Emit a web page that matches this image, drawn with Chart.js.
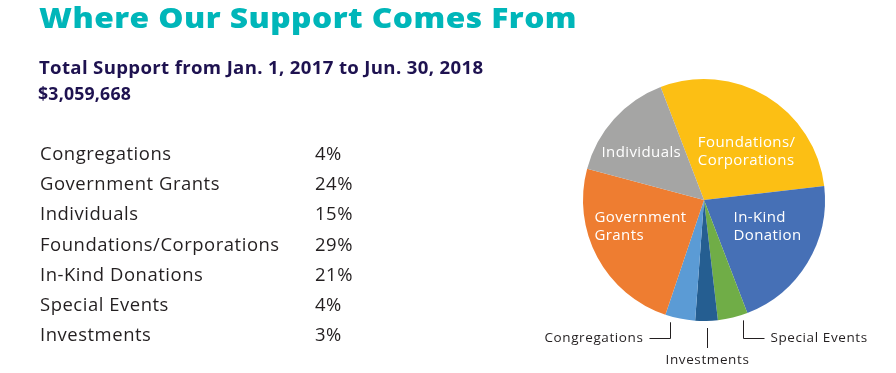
<!DOCTYPE html>
<html>
<head>
<meta charset="utf-8">
<script src="https://cdn.jsdelivr.net/npm/chart.js@4/dist/chart.umd.min.js"></script>
<style>
  html,body{margin:0;padding:0;background:#fff;}
  body{width:896px;height:373px;position:relative;overflow:hidden;font-family:"Open Sans",sans-serif;}
  #c{position:absolute;left:0;top:0;}
  .t{position:absolute;white-space:nowrap;transform-origin:0 50%;}
  #title{left:39px;top:2px;font-size:29px;line-height:29px;font-weight:800;color:#00B6B9;letter-spacing:0.4px;transform:scaleX(1.095);}
  #sub{left:39px;top:59px;font-size:17px;line-height:17px;font-weight:700;color:#1E1250;letter-spacing:0.3px;transform:scaleX(1.095);}
  #total{left:38px;top:85px;font-size:17px;line-height:17px;font-weight:700;color:#1E1250;letter-spacing:0.2px;transform:scaleX(1.04);}
  .row{font-size:17.5px;line-height:17.5px;color:#231F20;letter-spacing:0.5px;transform:scaleX(1.055);}
</style>
</head>
<body>
<canvas id="c" width="896" height="373"></canvas>
<div class="t" id="title">Where Our Support Comes From</div>
<div class="t" id="sub">Total Support from Jan. 1, 2017 to Jun. 30, 2018</div>
<div class="t" id="total">$3,059,668</div>
<div id="list"></div>
<script>
// ---- data ----
const categories = ["Congregations","Government Grants","Individuals","Foundations/Corporations","In-Kind Donations","Special Events","Investments"];
const values = [4, 24, 15, 29, 21, 4, 3];
const colors = ["#5B9BD5","#EE7D31","#A5A5A4","#FCBF14","#4670B6","#70AD47","#255E91"];
// pie slice order (clockwise), as indices into categories
const pieOrder = [3, 4, 5, 6, 0, 1, 2];
// labels printed on the pie (inside) and beside it (outside)
const insideLabels = {1:["Government","Grants"], 2:["Individuals"], 3:["Foundations/","Corporations"], 4:["In-Kind","Donation"]};
const outsideLabels = {0:{text:"Congregations", side:"left"}, 6:{text:"Investments", side:"below"}, 5:{text:"Special Events", side:"right"}};

// ---- list ----
const list = document.getElementById('list');
categories.forEach((c,i)=>{
  const top = 145 + i*30.17;
  const a = document.createElement('div');
  a.className='t row'; a.style.left='40px'; a.style.top=top+'px'; a.textContent=c;
  const b = document.createElement('div');
  b.className='t row'; b.style.left='315px'; b.style.top=top+'px'; b.textContent=values[i]+'%';
  list.appendChild(a); list.appendChild(b);
});

// label placement style inside each slice: fraction along the slice's angle, fraction of radius
const insidePlacement = {1:[0.56,0.57], 2:[0.41,0.65], 3:[0.60,0.53], 4:[0.39,0.57]};

// ---- label plugin ----
const pieLabelPlugin = {
  id:'pieLabels',
  afterDatasetsDraw(chart){
    const ctx = chart.ctx;
    const meta = chart.getDatasetMeta(0);
    meta.data.forEach((arc,i)=>{
      const p = arc.getProps(['x','y','startAngle','endAngle','outerRadius'], true);
      const R = p.outerRadius;
      const idx = pieOrder[i];
      ctx.save();
      if (insideLabels[idx]) {
        const [af, rf] = insidePlacement[idx] || [0.5, 0.6];
        const ang = p.startAngle + (p.endAngle - p.startAngle)*af;
        const lines = insideLabels[idx];
        const cx = p.x + Math.cos(ang)*R*rf;
        const cy = p.y + Math.sin(ang)*R*rf;
        ctx.fillStyle = '#ffffff';
        ctx.font = '15px "Open Sans", sans-serif';
        ctx.letterSpacing = '0.4px';
        ctx.textAlign = 'left';
        ctx.textBaseline = 'middle';
        const w = Math.max(...lines.map(l=>ctx.measureText(l).width));
        const lh = 18;
        lines.forEach((ln,k)=>{
          ctx.fillText(ln, cx - w/2, cy + (k - (lines.length-1)/2)*lh);
        });
      } else if (outsideLabels[idx]) {
        const mid = (p.startAngle + p.endAngle)/2;
        const o = outsideLabels[idx];
        const ex = p.x + Math.cos(mid)*R;
        ctx.strokeStyle = '#231F20';
        ctx.lineWidth = 1;
        ctx.fillStyle = '#231F20';
        ctx.font = '13.5px "Open Sans", sans-serif';
        ctx.letterSpacing = '0.6px';
        ctx.textBaseline = 'middle';
        if (o.side === 'below') {
          const lx = Math.round(ex) + 0.5;
          ctx.beginPath();
          ctx.moveTo(lx, p.y + R + 7);
          ctx.lineTo(lx, p.y + R + 27);
          ctx.stroke();
          ctx.textAlign = 'center';
          ctx.fillText(o.text, lx, p.y + R + 39);
        } else {
          const dir = o.side === 'left' ? -1 : 1;
          const lx = Math.round(ex + dir*10) + 0.5;
          const y0 = p.y + Math.sqrt(Math.max(R*R - (lx-p.x)*(lx-p.x),0)) + 6;
          const y1 = Math.round(p.y + R + 17) + 0.5;
          ctx.beginPath();
          ctx.moveTo(lx, y0);
          ctx.lineTo(lx, y1);
          ctx.lineTo(lx + dir*21, y1);
          ctx.stroke();
          ctx.textAlign = dir < 0 ? 'right' : 'left';
          ctx.fillText(o.text, lx + dir*27, y1);
        }
      }
      ctx.restore();
    });
  }
};

new Chart(document.getElementById('c'), {
  type:'pie',
  data:{
    labels: pieOrder.map(i=>categories[i]),
    datasets:[{
      data: pieOrder.map(i=>values[i]),
      backgroundColor: pieOrder.map(i=>colors[i]),
      borderWidth:0,
      hoverOffset:0
    }]
  },
  options:{
    responsive:false,
    animation:false,
    rotation:-21,
    layout:{padding:{left:583,right:71,top:79,bottom:52}},
    plugins:{legend:{display:false},tooltip:{enabled:false}},
    events:[]
  },
  plugins:[pieLabelPlugin]
});
</script>
</body>
</html>
